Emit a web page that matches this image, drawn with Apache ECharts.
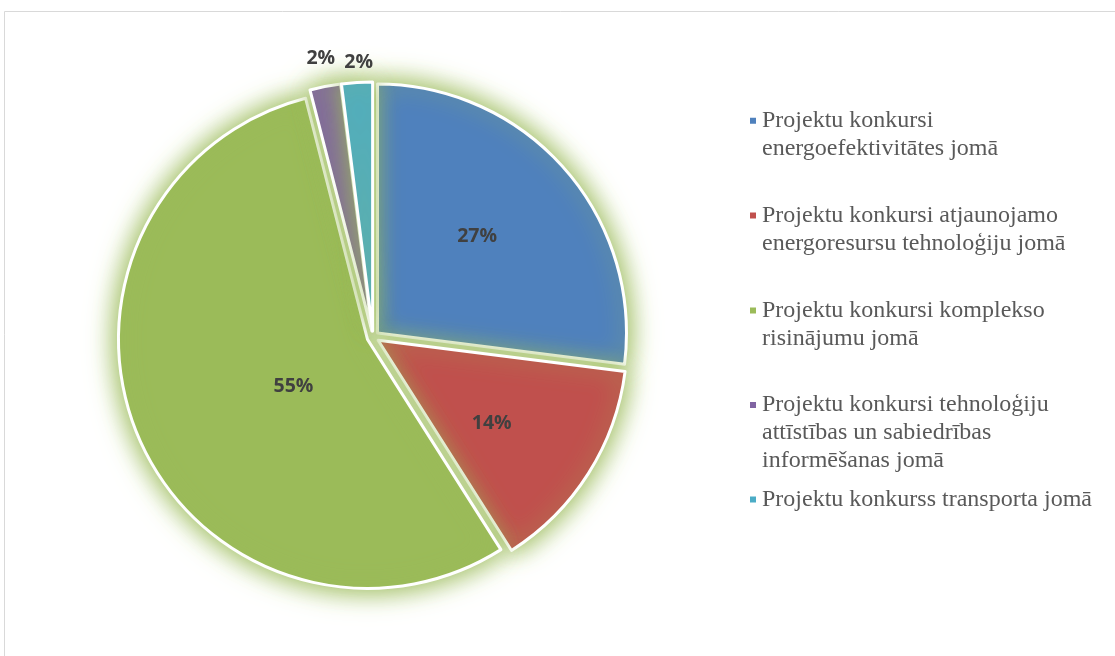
<!DOCTYPE html>
<html>
<head>
<meta charset="utf-8">
<script src="https://cdn.jsdelivr.net/npm/echarts@6/dist/echarts.min.js"></script>
<style>
html,body{margin:0;padding:0;background:#ffffff;}
#chart{width:1115px;height:656px;}
</style>
</head>
<body>
<div id="chart"></div>
<script>
// ---- data ----
const categories = [
  'Projektu konkursi energoefektivitātes jomā',
  'Projektu konkursi atjaunojamo energoresursu tehnoloģiju jomā',
  'Projektu konkursi komplekso risinājumu jomā',
  'Projektu konkursi tehnoloģiju attīstības un sabiedrības informēšanas jomā',
  'Projektu konkurss transporta jomā'
];
const values = [27, 14, 55, 2, 2];
const legendLines = [
  ['Projektu konkursi', 'energoefektivitātes jomā'],
  ['Projektu konkursi atjaunojamo', 'energoresursu tehnoloģiju jomā'],
  ['Projektu konkursi komplekso', 'risinājumu jomā'],
  ['Projektu konkursi tehnoloģiju', 'attīstības un sabiedrības', 'informēšanas jomā'],
  ['Projektu konkurss transporta jomā']
];

// ---- styles / layout ----
const colors = ['#4F81BD', '#C0504D', '#9BBB59', '#8064A2', '#4BACC6'];
const outsideLabel = {3: 29, 4: 20};            // labelLine length for small slices
const labelShift = [[4, -12], [6, 15], [43, -4], [1, 0], [3, 0]];
const legendFirstLineCenter = [120.7, 215.5, 310.5, 405, 499.5];
const LH = 28;
const CENTER = [373, 337];
const RADIUS = 249;

const seriesData = values.map(function (v, i) {
  const item = {name: categories[i], value: v, selected: true};
  if (outsideLabel[i] != null) {
    item.label = {position: 'outside', distanceToLabelLine: 0};
    item.labelLine = {show: false, length: outsideLabel[i], length2: 0};
  }
  return item;
});
const glowData = values.map(function (v, i) {
  return {name: categories[i], value: v, selected: true};
});

const legends = categories.map(function (name, i) {
  const n = legendLines[i].length;
  return {
    data: [name],
    orient: 'vertical',
    left: 748,
    top: legendFirstLineCenter[i] - (2 * n - 1) * LH / 2,
    padding: 0,
    itemWidth: 8,
    itemHeight: 8,
    itemGap: 0,
    icon: 'rect',
    selectedMode: false,
    formatter: function () {
      const lines = legendLines[i];
      const blanks = new Array(lines.length - 1).fill('');
      return blanks.concat(lines).join('\n');
    },
    textStyle: {
      fontFamily: '"Liberation Serif", "Times New Roman", serif',
      fontSize: 24,
      lineHeight: LH,
      color: '#595959'
    }
  };
});

const itemStyle = {
  borderColor: '#ffffff',
  borderWidth: 3,
  shadowColor: 'rgba(155,187,89,1)',
  shadowBlur: 22
};
const glowStyle = {
  color: '#9BBB59',
  borderWidth: 0,
  shadowColor: 'rgba(155,187,89,1)',
  shadowBlur: 32
};

const chart = echarts.init(document.getElementById('chart'), null, {renderer: 'canvas'});
chart.setOption({
  animation: false,
  color: colors,
  backgroundColor: '#ffffff',
  graphic: [{
    type: 'rect',
    shape: {x: 4.5, y: 11.5, width: 2000, height: 2000},
    style: {fill: 'none', stroke: '#d9d9d9', lineWidth: 1},
    silent: true,
    z: -10
  }],
  legend: legends,
  series: [{
    type: 'pie',
    z: 3,
    center: CENTER,
    radius: RADIUS,
    startAngle: 90,
    clockwise: true,
    avoidLabelOverlap: false,
    selectedMode: 'multiple',
    selectedOffset: 6,
    data: seriesData,
    itemStyle: itemStyle,
    select: {itemStyle: itemStyle, label: {color: '#404040'}},
    emphasis: {disabled: true},
    label: {
      show: true,
      position: 'inside',
      formatter: '{d}%',
      fontFamily: '"Open Sans", "Liberation Sans", sans-serif',
      fontWeight: 'bold',
      fontSize: 19.5,
      color: '#404040'
    },
    labelLine: {show: false},
    labelLayout: function (p) {
      const s = labelShift[p.dataIndex];
      return {dx: s[0], dy: s[1], align: 'center'};
    }
  }, {
    type: 'pie',
    z: 1,
    silent: true,
    legendHoverLink: false,
    center: CENTER,
    radius: [RADIUS - 10, RADIUS],
    startAngle: 90,
    clockwise: true,
    selectedMode: 'multiple',
    selectedOffset: 6,
    data: glowData,
    itemStyle: glowStyle,
    select: {itemStyle: glowStyle},
    emphasis: {disabled: true},
    label: {show: false},
    labelLine: {show: false}
  }]
});
</script>
</body>
</html>
